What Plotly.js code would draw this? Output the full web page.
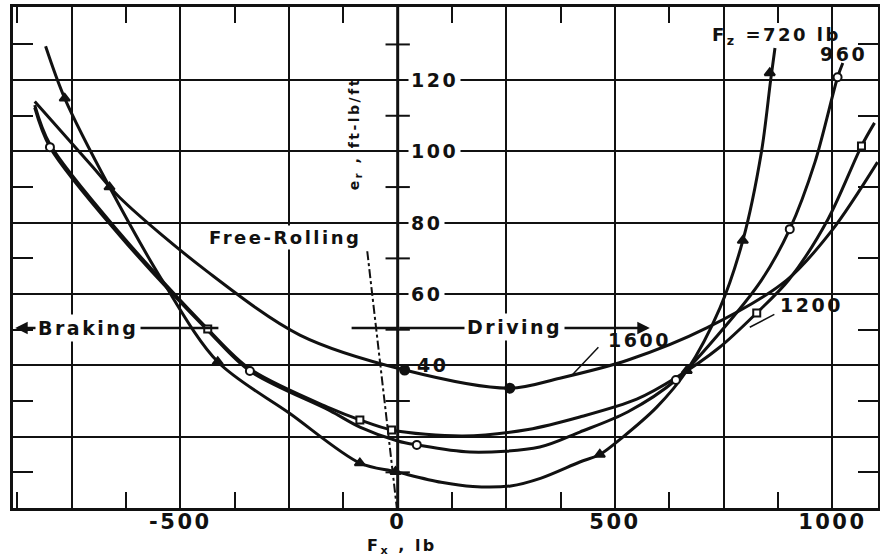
<!DOCTYPE html>
<html>
<head>
<meta charset="utf-8">
<script src="https://cdn.plot.ly/plotly-3.0.1.min.js"></script>
<style>
  body { margin: 0; background: #fff; }
  #chart { width: 880px; height: 560px; }
  .annotation-text, .xtick text { letter-spacing: 2.5px; }
</style>
</head>
<body>
<div id="chart"></div>
<script>
// Rolling-resistance energy e_r (ft-lb/ft) against longitudinal force F_x (lb),
// one faired curve per vertical load F_z, with the measured points on top.

// F_z = 720 lb
const fx720 = [-810, -766, -663, -540, -414, -248, -87, -5, 100, 173, 260, 330, 419, 465, 518, 596, 665, 741, 794, 837, 858, 868];
const er720 = [129.5, 114.9, 90.0, 63.5, 41.0, 26.5, 12.6, 10.2, 7.2, 6.0, 6.2, 8.4, 12.9, 15.0, 19.9, 28.3, 38.5, 56.0, 75.0, 100.0, 120.0, 129.0];
const pts720x = [-766, -663, -414, -87, -5, 465, 665, 794, 856];
const pts720y = [114.9, 90.0, 41.0, 12.6, 10.2, 15.0, 38.5, 75.0, 122.0];

// F_z = 960 lb
const fx960 = [-835, -800, -640, -437, -340, -156, -87, 0, 44, 166, 327, 419, 530, 640, 740, 837, 902, 960, 1012, 1024];
const er960 = [112.3, 101.2, 76.5, 49.8, 38.4, 27.3, 22.7, 18.8, 17.7, 15.7, 17.1, 21.3, 27.0, 35.9, 49.0, 63.9, 78.2, 97.0, 120.8, 124.8];
const pts960x = [-800, -340, 44, 640, 902, 1012];
const pts960y = [101.2, 38.4, 17.7, 35.9, 78.2, 120.8];

// F_z = 1200 lb
const fx1200 = [-835, -800, -640, -437, -340, -156, -87, -14, 150, 300, 419, 550, 640, 740, 826, 900, 990, 1067, 1097];
const er1200 = [113.0, 102.0, 77.2, 50.2, 39.0, 28.0, 24.7, 21.9, 20.2, 22.0, 25.5, 30.5, 36.5, 45.0, 54.7, 64.0, 81.0, 101.5, 108.0];
const pts1200x = [-437, -87, -14, 826, 1067];
const pts1200y = [50.2, 24.7, 21.9, 54.7, 101.5];

// F_z = 1600 lb
const fx1600 = [-835, -704, -639, -440, -225, 16, 258, 373, 530, 711, 895, 1000, 1104];
const er1600 = [114.0, 96.0, 87.0, 66.5, 48.5, 38.7, 33.6, 36.4, 41.5, 50.5, 63.9, 78.0, 97.0];
const pts1600x = [16, 258];
const pts1600y = [38.7, 33.6];

// free-rolling locus (F_x where the wheel runs without torque)
const freeRollX = [-70, -2];
const freeRollY = [72, 0];

// axis ticks
const xGrid = [-750, -500, -250, 0, 250, 500, 750, 1000];
const xGridText = ['', '-500', '', '0', '', '500', '', '1000'];
const xMinor = [-875, -625, -375, -125, 125, 375, 625, 875];
const yGrid = [20, 40, 60, 80, 100, 120];
const yLabelled = [40, 60, 80, 100, 120];
const yMinor = [10, 30, 50, 70, 90, 110, 130];

const INK = '#111';
const FONT = 'DejaVu Sans, Verdana, sans-serif';

function curve(x, y) {
  return { x, y, mode: 'lines', hoverinfo: 'skip', showlegend: false,
           line: { color: INK, width: 3, shape: 'spline', smoothing: 0.9 } };
}
function points(x, y, symbol, fill, size) {
  return { x, y, mode: 'markers', hoverinfo: 'skip', showlegend: false,
           marker: { symbol, size, color: fill, line: { color: INK, width: 2 } } };
}

const traces = [
  curve(fx1600, er1600),
  curve(fx1200, er1200),
  curve(fx960, er960),
  curve(fx720, er720),
  { x: freeRollX, y: freeRollY, mode: 'lines', hoverinfo: 'skip', showlegend: false,
    line: { color: INK, width: 2, dash: 'dashdot' } },
  points(pts720x, pts720y, 'triangle-up', INK, 9),
  points(pts960x, pts960y, 'circle', '#fff', 8),
  points(pts1200x, pts1200y, 'square', '#fff', 7),
  points(pts1600x, pts1600y, 'circle', INK, 9)
];

// short cross ticks on the centre (F_x = 0) axis
const shapes = yMinor.map(v => ({
  type: 'line', xref: 'x', yref: 'y', x0: -28, x1: 28, y0: v, y1: v,
  line: { color: INK, width: 2 }
}));
// F_x = 0 axis
shapes.push({ type: 'line', xref: 'x', yref: 'y', x0: 0, x1: 0, y0: 0, y1: 140.5,
              line: { color: INK, width: 3 } });
// short segment of the braking arrow next to the centre axis
shapes.push({ type: 'line', xref: 'x', yref: 'y', x0: -106, x1: 0, y0: 50.5, y1: 50.5,
              line: { color: INK, width: 2.5 } });

const txt = (size, extra) => Object.assign({ family: FONT, size, color: INK, weight: 'bold' }, extra || {});

// value labels beside the centre axis; the lowest one stays clear of the 1600 curve
const annotations = yLabelled.map(v => ({
  x: 0, y: v, xref: 'x', yref: 'y', text: String(v), showarrow: false,
  xanchor: 'left', xshift: v === 40 ? 16 : 10,
  bgcolor: v === 40 ? 'rgba(0,0,0,0)' : '#fff', borderpad: 2, font: txt(19)
}));

annotations.push(
  // braking arrow (points to the left edge) and driving arrow (points right)
  { x: -880, y: 50.5, ax: -409, ay: 50.5, axref: 'x', ayref: 'y', xref: 'x', yref: 'y',
    text: '', showarrow: true, arrowhead: 2, arrowsize: 1, arrowwidth: 2.5, arrowcolor: INK },
  { x: -713, y: 50.5, xref: 'x', yref: 'y', text: 'Braking', showarrow: false,
    bgcolor: '#fff', borderpad: 2, font: txt(19) },
  { x: 580, y: 50.5, ax: 0, ay: 50.5, axref: 'x', ayref: 'y', xref: 'x', yref: 'y',
    text: '', showarrow: true, arrowhead: 2, arrowsize: 1, arrowwidth: 2.5, arrowcolor: INK },
  { x: 269, y: 50.8, xref: 'x', yref: 'y', text: 'Driving', showarrow: false,
    bgcolor: '#fff', borderpad: 2, font: txt(19) },
  { x: -260, y: 76, xref: 'x', yref: 'y', text: 'Free-Rolling', showarrow: false,
    bgcolor: '#fff', borderpad: 1, font: txt(18) },
  // load labels
  { x: 872, y: 132.3, xref: 'x', yref: 'y', text: 'F<sub>z</sub> =720 lb', showarrow: false,
    font: txt(18) },
  { x: 1026, y: 127.3, xref: 'x', yref: 'y', text: '960', showarrow: false, font: txt(19) },
  { x: 952, y: 57, xref: 'x', yref: 'y', text: '1200', showarrow: false, font: txt(19) },
  { x: 557, y: 47.2, xref: 'x', yref: 'y', text: '1600', showarrow: false, font: txt(19) },
  // leaders from the load labels to their curves
  { x: 810, y: 50.7, ax: 870, ay: 54.5, axref: 'x', ayref: 'y', xref: 'x', yref: 'y',
    text: '', showarrow: true, arrowhead: 0, arrowwidth: 1.5, arrowcolor: INK },
  { x: 403, y: 37.5, ax: 465, ay: 45.5, axref: 'x', ayref: 'y', xref: 'x', yref: 'y',
    text: '', showarrow: true, arrowhead: 0, arrowwidth: 1.5, arrowcolor: INK },
  // axis titles
  { x: 10, y: 0, xref: 'x', yref: 'y', yshift: -38, text: 'F<sub>x</sub> , lb', showarrow: false,
    font: txt(16) },
  { x: -99, y: 105, xref: 'x', yref: 'y', text: 'e<sub>r</sub> , ft-lb/ft', textangle: -90,
    showarrow: false, font: txt(14) }
);

const layout = {
  width: 880, height: 560,
  margin: { l: 13, r: 2, t: 7, b: 52 },
  paper_bgcolor: '#fff', plot_bgcolor: '#fff',
  showlegend: false,
  xaxis: {
    range: [-885, 1105], tickmode: 'array', tickvals: xGrid, ticktext: xGridText,
    showgrid: true, gridcolor: INK, gridwidth: 2, zeroline: false,
    showline: true, linecolor: INK, linewidth: 3, mirror: 'ticks',
    ticks: '', ticklabelstandoff: -7,
    tickfont: { family: FONT, size: 21, color: INK, weight: 'bold' },
    minor: { tickmode: 'array', tickvals: xMinor, ticks: 'inside', ticklen: 16,
             tickwidth: 2, tickcolor: INK, showgrid: false }
  },
  yaxis: {
    range: [0, 140.5], tickmode: 'array', tickvals: yGrid, showticklabels: false,
    showgrid: true, gridcolor: INK, gridwidth: 2, zeroline: false,
    showline: true, linecolor: INK, linewidth: 3, mirror: 'ticks', ticks: '',
    minor: { tickmode: 'array', tickvals: yMinor, ticks: 'inside', ticklen: 20,
             tickwidth: 2, tickcolor: INK, showgrid: false }
  },
  shapes, annotations
};

Plotly.newPlot('chart', traces, layout, { staticPlot: true, displayModeBar: false });
</script>
</body>
</html>
